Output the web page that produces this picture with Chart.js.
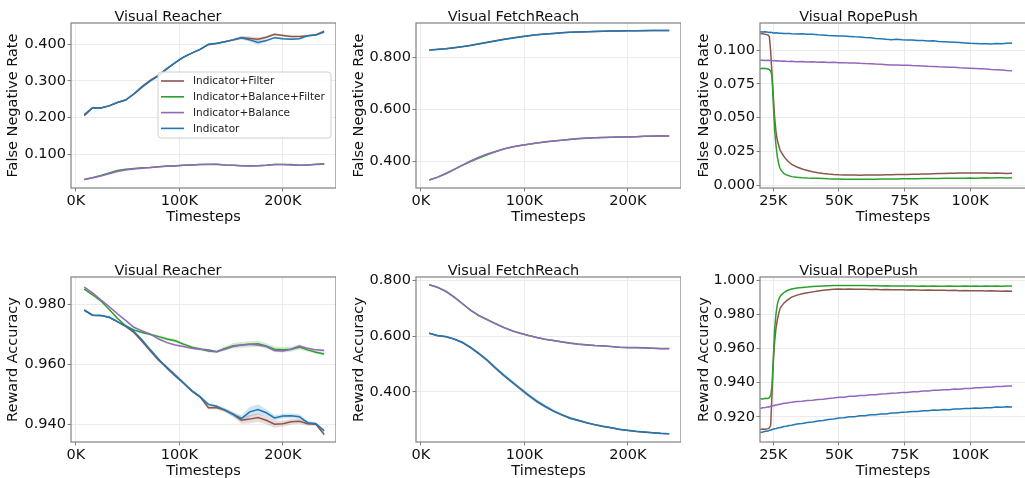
<!DOCTYPE html>
<html><head><meta charset="utf-8">
<script src="https://cdn.jsdelivr.net/npm/chart.js@4.4.0/dist/chart.umd.min.js"></script>
<style>
html,body{margin:0;padding:0;background:#fff;overflow:hidden;width:1025px;height:478px;position:relative;}
.p{position:absolute;}
canvas{display:block;}
</style></head><body>
<div class="p" style="left:0px;top:0px"><canvas id="c1"></canvas></div>
<div class="p" style="left:346px;top:0px"><canvas id="c2"></canvas></div>
<div class="p" style="left:691px;top:0px"><canvas id="c3"></canvas></div>
<div class="p" style="left:0px;top:254px"><canvas id="c4"></canvas></div>
<div class="p" style="left:346px;top:254px"><canvas id="c5"></canvas></div>
<div class="p" style="left:691px;top:254px"><canvas id="c6"></canvas></div>
<script>
// ---------- series names / colours (legend order) ----------
const seriesNames = ['Indicator+Filter', 'Indicator+Balance+Filter', 'Indicator+Balance', 'Indicator'];
const seriesColors = ['#8c564b', '#2ca02c', '#9467bd', '#1f77b4'];
const seriesBands = ['rgba(140,86,75,0.2)', 'rgba(44,160,44,0.2)', 'rgba(148,103,189,0.2)', 'rgba(31,119,180,0.2)'];

// ---------- tick labels ----------
const longTickValues = [0, 100, 200];
const longTickLabels = ['0K', '100K', '200K'];
const ropeTickValues = [25, 50, 75, 100];
const ropeTickLabels = ['25K', '50K', '75K', '100K'];

const reacherFnrTicks = [0.1, 0.2, 0.3, 0.4];
const fetchFnrTicks = [0.4, 0.6, 0.8];
const ropeFnrTicks = [0, 0.025, 0.05, 0.075, 0.1];
const reacherAccTicks = [0.94, 0.96, 0.98];
const fetchAccTicks = [0.4, 0.6, 0.8];
const ropeAccTicks = [0.92, 0.94, 0.96, 0.98, 1.0];

// ---------- timesteps (thousands) ----------
const longSteps = [8,16,24,32,40,48,56,64,72,80,88,96,104,112,120,128,136,144,152,160,168,176,184,192,200,208,216,224,232,240];
const ropeSteps = [20,21,22,23,23.5,24,24.5,25,25.5,26,26.5,27,27.5,28,29,30,31,32,34,36,38,40,42,44,46,48,50,52,54,56,58,60,62,64,66,68,70,72,74,76,78,80,82,84,86,88,90,92,94,96,98,100,102,104,106,108,110,112,114,116];

// ---------- Visual Reacher : False Negative Rate ----------
const reacherFnrFilter    = [0.205,0.226,0.226,0.232,0.241,0.248,0.265,0.285,0.302,0.316,0.334,0.350,0.365,0.376,0.386,0.399,0.402,0.407,0.412,0.418,0.416,0.414,0.419,0.427,0.424,0.421,0.421,0.423,0.426,0.436];
const reacherFnrBalFilter = [0.031,0.036,0.042,0.049,0.056,0.059,0.061,0.063,0.064,0.066,0.067,0.068,0.070,0.071,0.072,0.072,0.073,0.071,0.070,0.069,0.069,0.069,0.070,0.072,0.072,0.072,0.070,0.071,0.073,0.074];
const reacherFnrBalance   = [0.031,0.036,0.041,0.047,0.053,0.057,0.060,0.062,0.064,0.066,0.068,0.069,0.070,0.071,0.072,0.073,0.073,0.071,0.070,0.069,0.068,0.069,0.070,0.072,0.072,0.071,0.070,0.071,0.072,0.073];
const reacherFnrIndicator = [0.208,0.227,0.226,0.232,0.241,0.248,0.264,0.283,0.300,0.314,0.333,0.350,0.365,0.376,0.386,0.400,0.403,0.407,0.412,0.418,0.412,0.405,0.410,0.418,0.415,0.414,0.415,0.423,0.425,0.433];
// spread (half-width of shaded band)
const reacherFnrFilterStd    = [0.003,0.002,0.002,0.002,0.002,0.002,0.002,0.002,0.002,0.002,0.002,0.002,0.002,0.002,0.002,0.002,0.002,0.002,0.003,0.005,0.006,0.005,0.004,0.003,0.003,0.003,0.002,0.002,0.002,0.002];
const reacherFnrIndicatorStd = [0.003,0.002,0.002,0.002,0.002,0.002,0.002,0.002,0.002,0.002,0.002,0.002,0.002,0.002,0.002,0.002,0.002,0.002,0.003,0.004,0.006,0.006,0.004,0.003,0.003,0.003,0.002,0.002,0.002,0.002];

// ---------- Visual FetchReach : False Negative Rate ----------
const fetchFnrFilter    = [0.828,0.831,0.833,0.837,0.841,0.846,0.852,0.858,0.864,0.869,0.874,0.879,0.883,0.887,0.890,0.892,0.894,0.896,0.897,0.898,0.899,0.900,0.901,0.901,0.902,0.902,0.902,0.903,0.903,0.903];
const fetchFnrBalFilter = [0.327,0.338,0.352,0.368,0.383,0.398,0.411,0.424,0.436,0.446,0.454,0.460,0.465,0.469,0.473,0.477,0.480,0.483,0.486,0.488,0.490,0.491,0.492,0.493,0.493,0.494,0.495,0.495,0.496,0.496];
const fetchFnrBalance   = [0.327,0.337,0.351,0.367,0.384,0.400,0.415,0.427,0.437,0.446,0.454,0.460,0.465,0.469,0.474,0.477,0.480,0.484,0.487,0.489,0.490,0.491,0.492,0.493,0.494,0.494,0.495,0.496,0.497,0.496];
const fetchFnrIndicator = [0.828,0.830,0.833,0.837,0.840,0.845,0.851,0.857,0.863,0.868,0.873,0.878,0.883,0.887,0.890,0.892,0.894,0.896,0.897,0.898,0.899,0.900,0.901,0.901,0.902,0.902,0.903,0.903,0.903,0.903];

// ---------- Visual RopePush : False Negative Rate ----------
const ropeFnrFilter = [.1123,.1120,.1116,.1112, .1098,.0990,.0820,.0660,.0500,.0400,.0335,.0300,.0265,.0245, .0215,.0190,.0170,.0155, .0135,.0120,.0110,.0100,.0093,.0087,.0083,.0080,.0078, .0077,.0076,.0076,.0075,.0076, .0076,.0077,.0077,.0078,.0078, .0079,.0079,.0080,.0081,.0082, .0083,.0084,.0086,.0087,.0088, .0089,.0089,.0090,.0091,.0090, .0091,.0090,.0090,.0089,.0090, .0089,.0088,.0089];
const ropeFnrBalFilter = [.0862,.0866,.0864,.0860, .0855,.0845,.0810,.0604,.0410,.0300,.0215,.0165,.0128,.0110, .0088,.0077,.0070,.0064, .0059,.0056,.0054,.0053,.0052,.0051,.0048,.0047,.0046, .0045,.0045,.0044,.0045,.0044, .0045,.0045,.0046,.0046,.0047, .0047,.0048,.0048,.0049,.0049, .0050,.0050,.0051,.0051,.0052, .0052,.0053,.0052,.0053,.0054, .0053,.0054,.0055,.0054,.0055, .0055,.0054,.0055];
const ropeFnrBalance = [.0924,.0925,.0923,.0924, .0922,.0923,.0922,.0921,.0922,.0920,.0921,.0919,.0920,.0918, .0919,.0917,.0916,.0917, .0914,.0915,.0912,.0913,.0910,.0911,.0908,.0909,.0906, .0907,.0904,.0905,.0902,.0900, .0899,.0896,.0895,.0892,.0889, .0890,.0887,.0888,.0885,.0884, .0882,.0880,.0879,.0876,.0875, .0873,.0872,.0869,.0868,.0866, .0864,.0862,.0860,.0857,.0855, .0852,.0849,.0847];
const ropeFnrIndicator = [.1135,.1133,.1136,.1132, .1130,.1131,.1129,.1127,.1128,.1126,.1127,.1125,.1124,.1125, .1123,.1122,.1123,.1121, .1119,.1120,.1117,.1116,.1113,.1112,.1108,.1106,.1104, .1103,.1101,.1098,.1096,.1093, .1091,.1086,.1084,.1080,.1077, .1079,.1076,.1074,.1075,.1071, .1070,.1067,.1068,.1064,.1062, .1060,.1058,.1056,.1053,.1050, .1049,.1046,.1047,.1044,.1048, .1046,.1050,.1052];

// ---------- Visual Reacher : Reward Accuracy ----------
const reacherAccFilter    = [0.9779,0.9763,0.9762,0.9756,0.9742,0.9726,0.9706,0.9676,0.9644,0.9614,0.9590,0.9564,0.9539,0.9512,0.9492,0.9456,0.9456,0.9448,0.9434,0.9414,0.9418,0.9423,0.9414,0.9401,0.9403,0.9409,0.9411,0.9403,0.9401,0.9367];
const reacherAccBalFilter = [0.9850,0.9831,0.9811,0.9783,0.9753,0.9728,0.9714,0.9706,0.9699,0.9692,0.9684,0.9678,0.9667,0.9657,0.9651,0.9644,0.9642,0.9653,0.9662,0.9664,0.9667,0.9668,0.9661,0.9650,0.9648,0.9650,0.9657,0.9648,0.9640,0.9634];
const reacherAccBalance   = [0.9856,0.9837,0.9814,0.9792,0.9768,0.9746,0.9723,0.9711,0.9700,0.9684,0.9672,0.9664,0.9659,0.9653,0.9650,0.9648,0.9642,0.9650,0.9659,0.9664,0.9667,0.9664,0.9659,0.9646,0.9644,0.9650,0.9661,0.9653,0.9648,0.9646];
const reacherAccIndicator = [0.9781,0.9763,0.9762,0.9757,0.9742,0.9728,0.9709,0.9681,0.9648,0.9617,0.9587,0.9561,0.9537,0.9512,0.9492,0.9467,0.9461,0.9448,0.9434,0.9420,0.9442,0.9450,0.9439,0.9422,0.9428,0.9429,0.9426,0.9406,0.9403,0.9379];
// spread (half-width of shaded band)
const reacherAccFilterStd    = [0.0003,0.0003,0.0003,0.0003,0.0003,0.0003,0.0004,0.0005,0.0006,0.0006,0.0006,0.0006,0.0006,0.0005,0.0005,0.0006,0.0006,0.0006,0.0008,0.0012,0.0014,0.0014,0.0013,0.0012,0.0010,0.0009,0.0008,0.0007,0.0006,0.0006];
const reacherAccBalFilterStd = [0.0003,0.0003,0.0003,0.0003,0.0003,0.0003,0.0003,0.0004,0.0004,0.0005,0.0006,0.0006,0.0005,0.0005,0.0005,0.0005,0.0005,0.0007,0.0009,0.0010,0.0010,0.0010,0.0009,0.0009,0.0009,0.0008,0.0008,0.0006,0.0005,0.0005];
const reacherAccBalanceStd   = [0.0004,0.0003,0.0003,0.0003,0.0003,0.0003,0.0003,0.0003,0.0003,0.0003,0.0003,0.0003,0.0003,0.0003,0.0003,0.0003,0.0003,0.0004,0.0004,0.0004,0.0004,0.0004,0.0004,0.0004,0.0004,0.0004,0.0005,0.0004,0.0004,0.0004];
const reacherAccIndicatorStd = [0.0004,0.0003,0.0003,0.0003,0.0003,0.0003,0.0003,0.0004,0.0004,0.0004,0.0004,0.0004,0.0004,0.0004,0.0005,0.0005,0.0005,0.0006,0.0008,0.0010,0.0016,0.0017,0.0012,0.0009,0.0008,0.0008,0.0008,0.0006,0.0005,0.0005];

// ---------- Visual FetchReach : Reward Accuracy ----------
const fetchAccFilter    = [0.6100,0.6015,0.5978,0.5890,0.5768,0.5585,0.5365,0.5125,0.4850,0.4585,0.4345,0.4105,0.3868,0.3652,0.3472,0.3306,0.3175,0.3055,0.2972,0.2888,0.2817,0.2758,0.2710,0.2650,0.2614,0.2578,0.2554,0.2530,0.2506,0.2492];
const fetchAccBalFilter = [0.7844,0.7750,0.7608,0.7405,0.7168,0.6930,0.6745,0.6600,0.6450,0.6312,0.6190,0.6104,0.6020,0.5948,0.5890,0.5842,0.5795,0.5748,0.5712,0.5688,0.5664,0.5650,0.5626,0.5602,0.5590,0.5588,0.5578,0.5566,0.5555,0.5552];
const fetchAccBalance   = [0.7844,0.7748,0.7604,0.7400,0.7160,0.6919,0.6727,0.6583,0.6438,0.6306,0.6186,0.6102,0.6018,0.5946,0.5886,0.5838,0.5790,0.5742,0.5706,0.5682,0.5658,0.5646,0.5622,0.5598,0.5586,0.5586,0.5574,0.5562,0.5550,0.5550];
const fetchAccIndicator = [0.6102,0.6018,0.5982,0.5898,0.5778,0.5598,0.5381,0.5141,0.4865,0.4600,0.4360,0.4120,0.3880,0.3664,0.3483,0.3315,0.3183,0.3063,0.2979,0.2895,0.2823,0.2763,0.2715,0.2655,0.2619,0.2583,0.2559,0.2535,0.2511,0.2498];
const fetchAccIndicatorStd = [0.002,0.002,0.002,0.002,0.003,0.004,0.005,0.006,0.006,0.007,0.007,0.007,0.007,0.007,0.006,0.006,0.005,0.005,0.004,0.004,0.003,0.003,0.003,0.003,0.002,0.002,0.002,0.002,0.002,0.002];

// ---------- Visual RopePush : Reward Accuracy ----------
const ropeAccFilter = [.9126,.9129,.9127,.9131, .9136,.9150,.9330,.9520,.9640,.9715,.9765,.9800,.9830,.9845, .9865,.9878,.9890,.9900, .9912,.9920,.9926,.9931,.9936,.9940,.9943,.9946,.9948, .9947,.9948,.9946,.9947,.9946, .9945,.9946,.9944,.9945,.9944, .9943,.9944,.9942,.9943,.9942, .9941,.9942,.9940,.9941,.9940, .9939,.9940,.9938,.9939,.9938, .9937,.9938,.9936,.9937,.9936, .9935,.9936,.9935];
const ropeAccBalFilter = [.9306,.9304,.9309,.9307, .9312,.9325,.9380,.9543,.9710,.9800,.9855,.9885,.9902,.9912, .9926,.9936,.9943,.9948, .9953,.9957,.9959,.9962,.9964,.9966,.9967,.9968,.9969, .9969,.9968,.9969,.9968,.9968, .9967,.9967,.9966,.9967,.9966, .9965,.9966,.9965,.9965,.9964, .9965,.9964,.9965,.9964,.9964, .9965,.9964,.9964,.9965,.9964, .9965,.9964,.9965,.9964,.9965, .9964,.9965,.9965];
const ropeAccBalance = [.9249,.9253,.9254,.9259, .9258,.9262,.9264,.9266,.9266,.9270,.9269,.9273,.9272,.9275, .9279,.9280,.9284,.9285, .9290,.9291,.9296,.9297,.9302,.9303,.9308,.9310,.9314, .9315,.9320,.9320,.9325,.9325, .9330,.9330,.9334,.9335,.9338, .9339,.9343,.9343,.9347,.9347, .9351,.9351,.9355,.9355,.9359, .9359,.9363,.9362,.9366,.9366, .9370,.9370,.9373,.9373,.9377, .9377,.9381,.9381];
const ropeAccIndicator = [.9108,.9111,.9116,.9117, .9121,.9121,.9126,.9127,.9131,.9130,.9135,.9135,.9138,.9138, .9144,.9145,.9150,.9151, .9158,.9161,.9167,.9170,.9176,.9179,.9185,.9188,.9194, .9195,.9200,.9201,.9206,.9207, .9212,.9212,.9217,.9217,.9222, .9223,.9227,.9228,.9232,.9232, .9236,.9236,.9240,.9239,.9243, .9242,.9246,.9246,.9249,.9249, .9252,.9251,.9254,.9254,.9257, .9256,.9259,.9258];

// ---------- plugins ----------
const framePlugin = {
  id: 'frame',
  afterDatasetsDraw(chart) {
    const {ctx, chartArea: a} = chart;
    ctx.save();
    ctx.strokeStyle = '#808080';
    ctx.lineWidth = 1.2;
    ctx.strokeRect(a.left, a.top, a.right - a.left, a.bottom - a.top);
    ctx.restore();
  }
};
const boxLegendPlugin = {
  id: 'boxLegend',
  afterDraw(chart, args, opts) {
    if (!opts || !opts.show) return;
    const {ctx, chartArea: a} = chart;
    const x = a.left + opts.dx, y = a.top + opts.dy, w = opts.w, h = opts.h, r = 3;
    ctx.save();
    ctx.beginPath();
    ctx.moveTo(x + r, y); ctx.lineTo(x + w - r, y); ctx.arcTo(x + w, y, x + w, y + r, r);
    ctx.lineTo(x + w, y + h - r); ctx.arcTo(x + w, y + h, x + w - r, y + h, r);
    ctx.lineTo(x + r, y + h); ctx.arcTo(x, y + h, x, y + h - r, r);
    ctx.lineTo(x, y + r); ctx.arcTo(x, y, x + r, y, r);
    ctx.closePath();
    ctx.fillStyle = 'rgba(255,255,255,0.85)';
    ctx.fill();
    ctx.strokeStyle = '#d0d0d0';
    ctx.lineWidth = 1;
    ctx.stroke();
    ctx.font = "10.5px 'DejaVu Sans'";
    ctx.textBaseline = 'middle';
    ctx.textAlign = 'left';
    seriesNames.forEach((name, i) => {
      const yy = y + 9 + i * 15.8;
      ctx.strokeStyle = seriesColors[i];
      ctx.lineWidth = 1.6;
      ctx.beginPath(); ctx.moveTo(x + 3, yy); ctx.lineTo(x + 26, yy); ctx.stroke();
      ctx.fillStyle = '#222';
      ctx.fillText(name, x + 35, yy + 0.5);
    });
    ctx.restore();
  }
};

Chart.defaults.font.family = "'DejaVu Sans'";
Chart.defaults.font.size = 14.5;
Chart.defaults.color = '#111';

// ---------- builder ----------
function pts(xs, ys) { return xs.map((x, i) => ({x: x, y: ys[i]})); }
function bandPts(xs, ys, sd, sign) { return xs.map((x, i) => ({x: x, y: ys[i] + sign * sd[i]})); }

function makePanel(id, cfg) {
  const canvas = document.getElementById(id);
  canvas.width = cfg.w; canvas.height = cfg.h;
  canvas.style.width = cfg.w + 'px'; canvas.style.height = cfg.h + 'px';
  // draw order: Indicator on top, Indicator+Filter at the bottom
  const order = [3, 2, 1, 0];
  const datasets = order.map(k => ({
    label: seriesNames[k],
    data: pts(cfg.xs, cfg.series[k]),
    borderColor: seriesColors[k],
    backgroundColor: seriesColors[k],
    borderWidth: 1.5,
    pointRadius: 0,
    tension: 0,
    fill: false
  }));
  // shaded spread bands (drawn underneath)
  (cfg.bands || []).forEach(b => {
    if (!b) return;
    const k = b.k;
    datasets.push({
      label: seriesNames[k] + ' low', data: bandPts(cfg.xs, cfg.series[k], b.sd, -1),
      borderWidth: 0, pointRadius: 0, tension: 0, fill: false, borderColor: 'rgba(0,0,0,0)'
    });
    datasets.push({
      label: seriesNames[k] + ' high', data: bandPts(cfg.xs, cfg.series[k], b.sd, 1),
      borderWidth: 0, pointRadius: 0, tension: 0, fill: '-1', borderColor: 'rgba(0,0,0,0)',
      backgroundColor: seriesBands[k]
    });
  });
  const tickFont = {family: "'DejaVu Sans'", size: 14.5};
  const titleFont = {family: "'DejaVu Sans'", size: 14.5, lineHeight: 1};
  new Chart(canvas, {
    type: 'line',
    data: {datasets: datasets},
    plugins: [framePlugin, boxLegendPlugin],
    options: {
      responsive: false,
      animation: false,
      devicePixelRatio: 1,
      layout: {padding: 0},
      plugins: {
        legend: {display: false},
        tooltip: {enabled: false},
        title: {display: true, text: cfg.title, color: '#111', font: {family: "'DejaVu Sans'", size: 14.5, weight: 'normal', lineHeight: 1}, padding: {top: 9.5, bottom: -1}},
        boxLegend: cfg.legend || {show: false}
      },
      scales: {
        x: {
          type: 'linear', min: cfg.xmin, max: cfg.xmax,
          afterBuildTicks: s => { s.ticks = cfg.xTicks.map(v => ({value: v})); },
          afterFit: s => { s.height = 36; s.paddingLeft = 0; s.paddingRight = 0; s.paddingTop = 0; s.paddingBottom = 0; },
          ticks: {font: tickFont, color: '#111', padding: 1, maxRotation: 0, autoSkip: false,
                  callback: (v, i) => cfg.xLabels[i]},
          grid: {color: '#ebebeb', lineWidth: 1, drawTicks: true, tickLength: 3.5, tickColor: '#808080'},
          border: {display: false},
          title: {display: true, text: 'Timesteps', color: '#111', font: titleFont, padding: {top: 0, bottom: -0.8}}
        },
        y: {
          type: 'linear', min: cfg.ymin, max: cfg.ymax,
          afterBuildTicks: s => { s.ticks = cfg.yTicks.map(v => ({value: v})); },
          afterFit: s => { s.width = cfg.yW; s.paddingTop = 0; s.paddingBottom = 0; s.paddingLeft = 0; s.paddingRight = 0; },
          ticks: {font: tickFont, color: '#111', padding: 1.5, autoSkip: false,
                  callback: v => v.toFixed(3)},
          grid: {color: '#ebebeb', lineWidth: 1, drawTicks: true, tickLength: 3.5, tickColor: '#808080'},
          border: {display: false},
          title: {display: true, text: cfg.yTitle, color: '#111', font: titleFont, padding: {top: 6, bottom: 0}}
        }
      }
    }
  });
}

const longRange = {xmin: -4.8, xmax: 251.4, xs: longSteps, xTicks: longTickValues, xLabels: longTickLabels};
const ropeRange = {xmin: 19.93, xmax: 121.3, xs: ropeSteps, xTicks: ropeTickValues, xLabels: ropeTickLabels};

makePanel('c1', Object.assign({}, longRange, {w: 336, h: 224, yW: 71, title: 'Visual Reacher', yTitle: 'False Negative Rate',
  ymin: 0.008, ymax: 0.458, yTicks: reacherFnrTicks,
  series: [reacherFnrFilter, reacherFnrBalFilter, reacherFnrBalance, reacherFnrIndicator],
  bands: [{k: 0, sd: reacherFnrFilterStd}, {k: 3, sd: reacherFnrIndicatorStd}],
  legend: {show: true, dx: 87, dy: 49, w: 173, h: 66}}));
makePanel('c2', Object.assign({}, longRange, {w: 335, h: 224, yW: 70, title: 'Visual FetchReach', yTitle: 'False Negative Rate',
  ymin: 0.296, ymax: 0.932, yTicks: fetchFnrTicks,
  series: [fetchFnrFilter, fetchFnrBalFilter, fetchFnrBalance, fetchFnrIndicator]}));
makePanel('c3', Object.assign({}, ropeRange, {w: 335, h: 224, yW: 69, title: 'Visual RopePush', yTitle: 'False Negative Rate',
  ymin: -0.002, ymax: 0.120, yTicks: ropeFnrTicks,
  series: [ropeFnrFilter, ropeFnrBalFilter, ropeFnrBalance, ropeFnrIndicator]}));
makePanel('c4', Object.assign({}, longRange, {w: 336, h: 224, yW: 71, title: 'Visual Reacher', yTitle: 'Reward Accuracy',
  ymin: 0.9342, ymax: 0.989, yTicks: reacherAccTicks,
  series: [reacherAccFilter, reacherAccBalFilter, reacherAccBalance, reacherAccIndicator],
  bands: [{k: 0, sd: reacherAccFilterStd}, {k: 1, sd: reacherAccBalFilterStd}, {k: 2, sd: reacherAccBalanceStd}, {k: 3, sd: reacherAccIndicatorStd}]}));
makePanel('c5', Object.assign({}, longRange, {w: 335, h: 224, yW: 70, title: 'Visual FetchReach', yTitle: 'Reward Accuracy',
  ymin: 0.220, ymax: 0.812, yTicks: fetchAccTicks,
  series: [fetchAccFilter, fetchAccBalFilter, fetchAccBalance, fetchAccIndicator],
  bands: [{k: 3, sd: fetchAccIndicatorStd}]}));
makePanel('c6', Object.assign({}, ropeRange, {w: 335, h: 224, yW: 69, title: 'Visual RopePush', yTitle: 'Reward Accuracy',
  ymin: 0.9053, ymax: 1.0018, yTicks: ropeAccTicks,
  series: [ropeAccFilter, ropeAccBalFilter, ropeAccBalance, ropeAccIndicator]}));
</script>
</body></html>
